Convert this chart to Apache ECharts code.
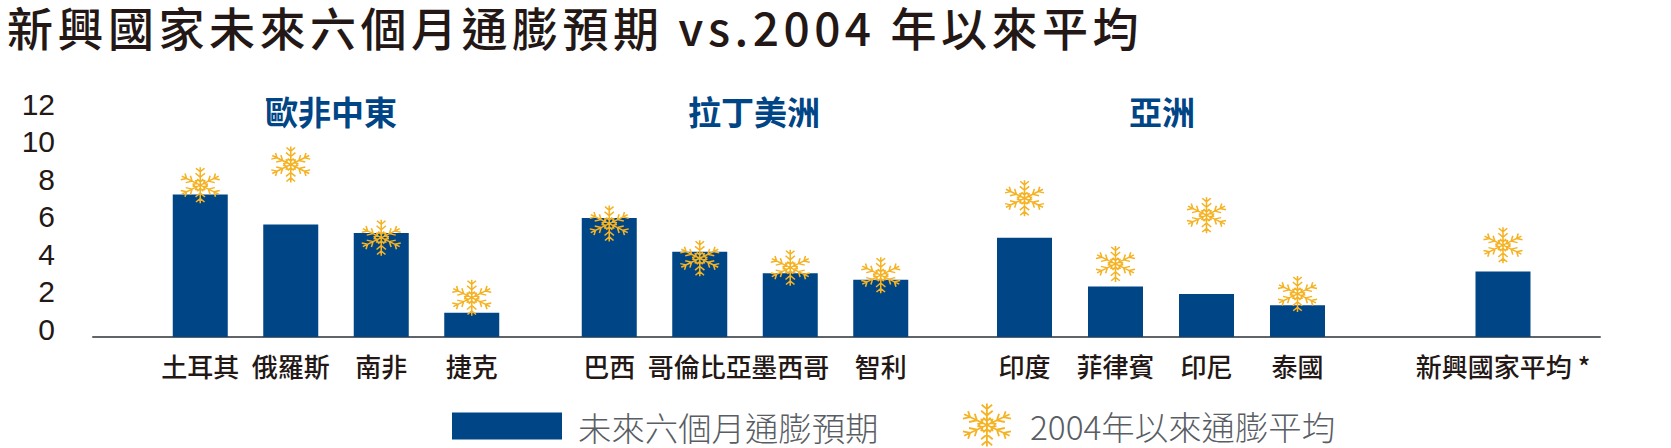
<!DOCTYPE html>
<html><head><meta charset="utf-8">
<style>html,body{margin:0;padding:0;background:#fff}#c{width:1671px;height:448px}
#c svg text[style*="46px"]{letter-spacing:4.5px}</style>
<script src="https://cdn.jsdelivr.net/npm/echarts@6/dist/echarts.min.js"></script>
</head><body><div id="c"></div>
<script>
const chartTitle = '新興國家未來六個月通膨預期 vs.2004 年以來平均';
const seriesBarName = '未來六個月通膨預期';
const seriesAvgName = '2004年以來通膨平均';
const groupNames = ['歐非中東', '拉丁美洲', '亞洲', ''];
const yTicks = [0, 2, 4, 6, 8, 10, 12];
const catsEmea = ['土耳其', '俄羅斯', '南非', '捷克'];
const catsLatam = ['巴西', '哥倫比亞', '墨西哥', '智利'];
const catsAsia = ['印度', '菲律賓', '印尼', '泰國'];
const catsAvg = ['新興國家平均 *'];
const expectEmea = [7.6, 6.0, 5.55, 1.3];
const expectLatam = [6.35, 4.55, 3.4, 3.05];
const expectAsia = [5.3, 2.7, 2.3, 1.7];
const expectAvg = [3.5];
const avgEmea = [8.1, 9.2, 5.3, 2.1];
const avgLatam = [6.05, 4.2, 3.7, 3.3];
const avgAsia = [7.4, 3.9, 6.5, 2.3];
const avgAvg = [4.9];

const NAVY = '#004585', GOLD = '#F5B223', DARK = '#231815', GREY = '#595D64';
const FONT = '"Noto Sans CJK TC","Noto Sans CJK SC",sans-serif';

// snowflake glyph used as the symbol of the average series
function snowPath() {
  const R = 50; let d = '';
  const f = n => n.toFixed(2);
  for (let i = 0; i < 6; i++) {
    const a = i * Math.PI / 3 - Math.PI / 2, c = Math.cos(a), s = Math.sin(a);
    const p = (r, o) => f(50 + r * c - o * s) + ' ' + f(50 + r * s + o * c);
    d += 'M' + p(0, 0) + 'L' + p(R, 0);
    [[22, 11], [37, 10]].forEach(([r, b]) => {
      d += 'M' + p(r, 0) + 'L' + p(r + b, b) + 'M' + p(r, 0) + 'L' + p(r + b, -b);
    });
    d += 'M' + p(9, 0) + 'L' + p(17, 7) + 'M' + p(9, 0) + 'L' + p(17, -7);
    d += 'M' + p(13, -8) + 'L' + p(13, 8);
  }
  return 'path://' + d;
}
const SNOW = snowPath();

const baseTop = 112, baseBottom = 337, plotH = baseBottom - baseTop;
const groups = [
  { cats: catsEmea, bar: expectEmea, avg: avgEmea, left: 155, right: 517, tx: 326 },
  { cats: catsLatam, bar: expectLatam, avg: avgLatam, left: 564, right: 926, tx: 749 },
  { cats: catsAsia, bar: expectAsia, avg: avgAsia, left: 979, right: 1343, tx: 1157 },
  { cats: catsAvg, bar: expectAvg, avg: avgAvg, left: 1457, right: 1549, tx: 1503 }
];

const grid = [{ left: 93, width: 1507, top: baseTop, height: plotH }];
const xAxis = [{ gridIndex: 0, type: 'category', data: [''], axisTick: { show: false }, axisLabel: { show: false },
  axisLine: { lineStyle: { color: '#5f6468', width: 2 } } }];
const yAxis = [{ gridIndex: 0, type: 'value', min: 0, max: 12, interval: 2, splitLine: { show: false },
  axisLine: { show: false }, axisTick: { show: false },
  axisLabel: { color: DARK, fontSize: 30, fontFamily: '"Liberation Sans",Arial,sans-serif', margin: 38,
    verticalAlign: 'bottom', lineHeight: 16 } }];
const series = [];
const titles = [{ text: chartTitle, left: 7, top: 3, padding: 0, textStyle: { fontSize: 46, fontWeight: 500, color: DARK, fontFamily: FONT } }];

groups.forEach((g, i) => {
  const k = i + 1;
  grid.push({ left: g.left, width: g.right - g.left, top: baseTop, height: plotH });
  xAxis.push({ gridIndex: k, type: 'category', data: g.cats, axisLine: { show: false }, axisTick: { show: false },
    axisLabel: { color: DARK, fontSize: 26, fontWeight: 500, fontFamily: FONT, margin: 15, interval: 0 } });
  yAxis.push({ gridIndex: k, type: 'value', min: 0, max: 12, interval: 2, show: false });
  series.push({ type: 'bar', name: seriesBarName, xAxisIndex: k, yAxisIndex: k, data: g.bar, barWidth: 55,
    itemStyle: { color: NAVY }, z: 2 });
  series.push({ type: 'scatter', name: seriesAvgName, xAxisIndex: k, yAxisIndex: k, data: g.avg, symbol: SNOW,
    symbolSize: [39, 36], symbolKeepAspect: false, itemStyle: { color: 'rgba(0,0,0,0)', borderColor: GOLD, borderWidth: 1.5, opacity: 1 }, z: 3 });
  if (groupNames[i]) titles.push({ text: groupNames[i], left: g.tx, top: 89, textAlign: 'center',
    textStyle: { fontSize: 33, fontWeight: 700, color: NAVY, fontFamily: FONT } });
});

const chart = echarts.init(document.getElementById('c'), null, { renderer: 'svg' });
chart.setOption({
  animation: false, backgroundColor: '#fff', title: titles, grid, xAxis, yAxis, series,
  legend: [
    { data: [{ name: seriesBarName, icon: 'rect' }], left: 447, top: 394, itemWidth: 110, itemHeight: 27,
      textStyle: { fontSize: 33.4, lineHeight: 36, fontFamily: FONT, color: GREY, fontWeight: 300, padding: [0, 0, 18, 11] } },
    { data: [{ name: seriesAvgName, icon: SNOW }], left: 957, top: 393, itemWidth: 48, itemHeight: 43, symbolKeepAspect: false,
      itemStyle: { color: 'rgba(0,0,0,0)', borderColor: GOLD, borderWidth: 1.8 },
      textStyle: { fontSize: 33.4, lineHeight: 36, fontFamily: FONT, color: GREY, fontWeight: 300, padding: [0, 0, 18, 14] } }
  ]
});
</script></body></html>
